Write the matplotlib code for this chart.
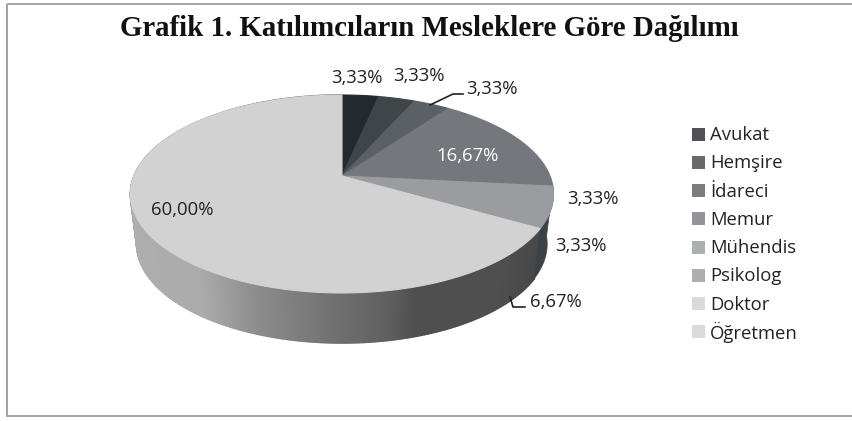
import matplotlib
matplotlib.use('Agg')
import matplotlib.pyplot as plt
import numpy as np
from matplotlib.collections import PolyCollection
from matplotlib.patches import Polygon, Rectangle

title = 'Grafik 1. Katılımcıların Mesleklere Göre Dağılımı'
categories = ['Avukat', 'Hemşire', 'İdareci', 'Memur', 'Mühendis', 'Psikolog', 'Doktor', 'Öğretmen']
values = [3.33, 3.33, 3.33, 16.67, 3.33, 3.33, 6.67, 60.00]
top_colors = ['#23292c', '#3f4649', '#5a6063', '#74787d', '#9a9ca0', '#9a9ca0', '#d2d2d2', '#d2d2d2']
legend_colors = ['#505256', '#686a6d', '#7b7d80', '#929497', '#adaeb1', '#adaeb1', '#d9dadc', '#d9dadc']
label_text = ['3,33%', '3,33%', '3,33%', '16,67%', '3,33%', '3,33%', '6,67%', '60,00%']
label_x = [357, 419, 492, 468, 593, 581, 556, 182]
label_y = [78, 76, 89, 156, 199, 246, 302, 210]

# wall shading from left to right, pixel x against grey level
wall_x = [130, 200, 255, 320, 390, 415, 500, 553]
wall_grey = [0.68, 0.67, 0.55, 0.46, 0.37, 0.31, 0.31, 0.27]

cx, cy = 342, 176
rx, k, a = 208, 0.1818, 95.7
depth = 50


def rim(frac, shrink=1.0, drop=0):
    # tilted circle seen in perspective, fraction runs clockwise from the top
    th = 2 * np.pi * np.asarray(frac)
    den = 1 + k * np.cos(th)
    return cx + shrink * rx * np.sin(th) / den, cy - a * np.cos(th) / den + drop


fig = plt.figure(figsize=(8.53, 4.21), dpi=100)
ax = fig.add_axes([0, 0, 1, 1])
ax.set_xlim(0, 853)
ax.set_ylim(421, 0)
ax.axis('off')

ax.add_patch(Rectangle((7, 4), 860, 412, fill=False, ec='#a2a2a4', lw=1.4))

# side wall
shares = np.cumsum(values) / sum(values)
ts = np.linspace(shares[5], 1.0, 400)
quads = []
greys = []
for t0, t1 in zip(ts[:-1], ts[1:]):
    x0, y0 = rim(t0)
    x1, y1 = rim(t1)
    x2, y2 = rim(t1, 0.97, depth)
    x3, y3 = rim(t0, 0.97, depth)
    quads.append([(x0, y0), (x1, y1), (x2, y2), (x3, y3)])
    greys.append(str(np.interp((x0 + x1) / 2, wall_x, wall_grey)))
ax.add_collection(PolyCollection(quads, facecolors=greys, edgecolors=greys, linewidths=1.2))

ts = np.linspace(shares[3], shares[5], 40)
xs, ys = rim(ts)
xb, yb = rim(ts, 0.97, depth)
ax.add_patch(Polygon(list(zip(xs, ys)) + list(zip(xb[::-1], yb[::-1])), fc='#3c4144', ec='#3c4144', lw=0.5))

# top face
start = 0.0
for val, col in zip(values, top_colors):
    end = start + val / sum(values)
    xs, ys = rim(np.linspace(start, end, 200))
    pts = [(cx, cy)] + list(zip(xs, ys))
    ax.add_patch(Polygon(pts, fc=col, ec=col, lw=0.8))
    start = end

for x, y, txt, val in zip(label_x, label_y, label_text, values):
    col = 'white' if val == 16.67 else '#222222'
    ax.text(x, y, txt, family='Open Sans', fontsize=13.3, color=col, ha='center', va='center')

# leader lines
ax.plot([430, 453, 463], [105, 94, 94], color='#222222', lw=1.2)
ax.plot([510, 513, 525], [297, 307, 307], color='#222222', lw=1.2)

# legend
for i, (name, col) in enumerate(zip(categories, legend_colors)):
    y = 134.3 + i * 28.2
    ax.add_patch(Rectangle((692, y - 6.5), 13, 13, fc=col, ec='none'))
    ax.text(710, y + 1, name, family='Open Sans', fontsize=13.3, color='#222222', ha='left', va='center')

ax.text(429, 36, title, family='Liberation Serif', fontweight='bold', fontsize=20.8, color='#111111', ha='center', va='baseline')

fig.savefig('out.png', dpi=100)
